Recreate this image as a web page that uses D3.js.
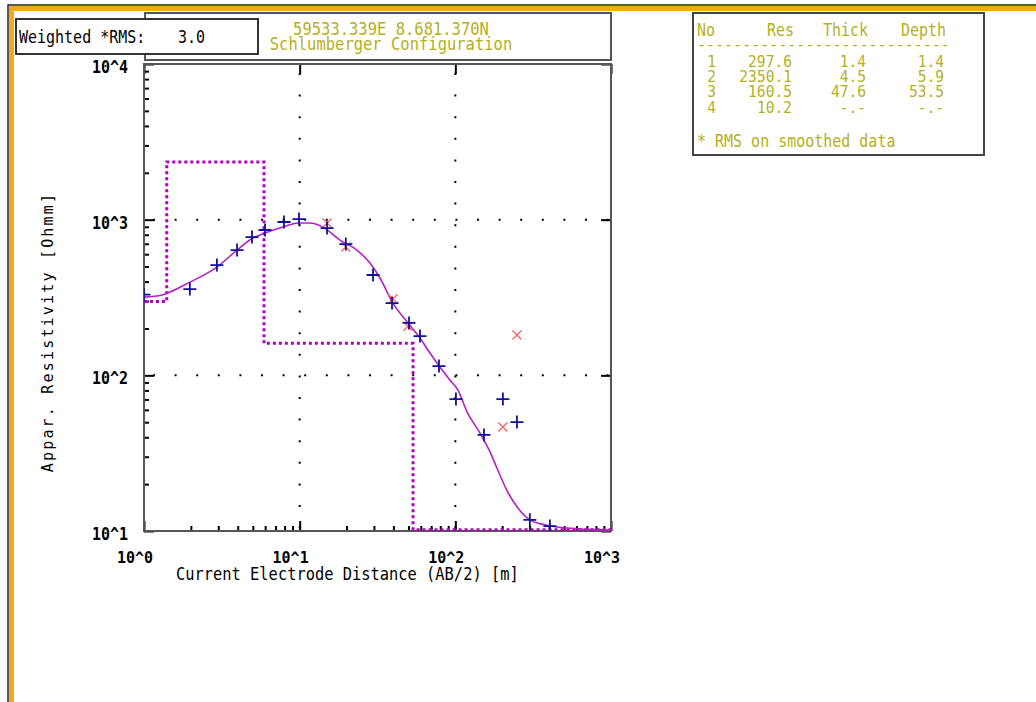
<!DOCTYPE html>
<html>
<head>
<meta charset="utf-8">
<script src="https://cdn.jsdelivr.net/npm/d3@7"></script>
<style>
  body { margin: 0; background: #fff; }
  svg { display: block; }
  text { font-family: "DejaVu Sans Mono", "Liberation Mono", monospace; }
</style>
</head>
<body>
<svg id="chart" width="1036" height="702"></svg>
<script>
// layer model (No / Res / Thick / Depth)
const layerNo = ['1', '2', '3', '4'];
const layerRes = [297.6, 2350.1, 160.5, 10.2];
const layerThick = ['1.4', '4.5', '47.6', '-.-'];
const layerDepth = [1.4, 5.9, 53.5, null];
const layerDepthText = ['1.4', '5.9', '53.5', '-.-'];

// field data, AB/2 [m] and apparent resistivity [Ohmm]
const fieldAB = [1.0, 1.97, 2.94, 3.96, 4.94, 5.99, 7.93, 9.9, 15.0, 19.8, 29.6, 39.2, 50.4, 59.3, 78.5, 100.9, 152.7, 202, 248.7, 301, 405];
const fieldRho = [330, 358, 511, 638, 773, 858, 966, 1009, 883, 697, 441, 291, 217, 178.8, 114.7, 70.4, 41.4, 70.4, 50.1, 11.8, 10.76];

// points masked / smoothed (red x)
const maskAB = [15.0, 19.8, 39.7, 49.6, 202, 248.7];
const maskRho = [951, 667, 309, 207, 46.5, 181.5];

// calculated model curve
const curveAB = [1, 1.305, 1.47, 1.974, 2.94, 3.96, 5.01, 5.99, 7.81, 9.75, 11.6, 14.1, 18.15, 23.3, 28.3, 32.8, 39.7, 49.6, 59.3, 68.7, 79.6, 92.3, 104, 119, 144, 167, 185, 214, 249, 301, 387, 521, 984];
const curveRho = [318, 328, 343, 397, 496, 638, 762, 820, 896, 951, 951, 896, 739, 638, 526, 422, 291, 217, 173.6, 139, 113, 93.3, 80.4, 58.1, 42.6, 32.2, 25.4, 18.3, 14.3, 11.8, 10.9, 10.45, 10.15];

const xDecades = [1, 10, 100, 1000];
const xTickLabels = ['10^0', '10^1', '10^2', '10^3'];
const yDecades = [10, 100, 1000, 10000];
const yTickLabels = ['10^1', '10^2', '10^3', '10^4'];

const rmsValue = '3.0';
const coordText = '59533.339E 8.681.370N';
const configText = 'Schlumberger Configuration';

const olive = '#b4b01c';
const magenta = '#b000c4';

const svg = d3.select('#chart');

const xs = d3.scaleLog().domain([1, 1000]).range([144, 611]);
const ys = d3.scaleLog().domain([10, 10000]).range([531, 64]);

// tall narrow pixel-ish text
function txt(g, x, y, s, opt) {
  opt = opt || {};
  return g.append('text')
    .attr('transform', `translate(${x},${y}) scale(1,${opt.sy || 1.2})`)
    .attr('text-anchor', opt.anchor || 'start')
    .attr('font-size', opt.size || 15)
    .attr('font-weight', opt.weight || 'normal')
    .attr('fill', opt.fill || '#000')
    .text(s);
}

//////////////////////////////////////////////////////////////////
// window frame
svg.append('rect').attr('x', 8).attr('y', 5).attr('width', 1040).attr('height', 710)
  .attr('fill', 'none').attr('stroke', '#222').attr('stroke-width', 1.5);
svg.append('rect').attr('x', 9).attr('y', 6).attr('width', 1040).attr('height', 5).attr('fill', '#f6a81c');
svg.append('rect').attr('x', 9).attr('y', 6).attr('width', 5).attr('height', 700).attr('fill', '#f6a81c');

//////////////////////////////////////////////////////////////////
// title box + weighted RMS box
svg.append('rect').attr('x', 145).attr('y', 13).attr('width', 466).attr('height', 47)
  .attr('fill', '#fff').attr('stroke', '#555').attr('stroke-width', 2);
txt(svg, 391, 35, coordText, { anchor: 'middle', fill: olive, size: 15.5, sy: 1.1 });
txt(svg, 391, 50, configText, { anchor: 'middle', fill: olive, size: 15.5, sy: 1.1 });

svg.append('rect').attr('x', 16).attr('y', 19).attr('width', 242).attr('height', 35)
  .attr('fill', '#fff').attr('stroke', '#333').attr('stroke-width', 2);
txt(svg, 19, 43, 'Weighted *RMS:', { size: 15 });
txt(svg, 178, 43, rmsValue, { size: 15 });

//////////////////////////////////////////////////////////////////
// layer table
const tb = svg.append('g');
tb.append('rect').attr('x', 693).attr('y', 13).attr('width', 291).attr('height', 142)
  .attr('fill', '#fff').attr('stroke', '#444').attr('stroke-width', 2);
txt(tb, 697, 36, 'No', { fill: olive });
txt(tb, 794, 36, 'Res', { fill: olive, anchor: 'end' });
txt(tb, 868, 36, 'Thick', { fill: olive, anchor: 'end' });
txt(tb, 946, 36, 'Depth', { fill: olive, anchor: 'end' });
txt(tb, 697, 50, '----------------------------', { fill: olive, sy: 1 });
layerNo.forEach((n, i) => {
  const y = 67 + i * 15.2;
  const o = { fill: olive, anchor: 'end', size: 14.6, sy: 1.1 };
  txt(tb, 716, y, n, o);
  txt(tb, 792, y, layerRes[i].toFixed(1), o);
  txt(tb, 866, y, layerThick[i], o);
  txt(tb, 944, y, layerDepthText[i], o);
});
txt(tb, 697, 147, '* RMS on smoothed data', { fill: olive });

//////////////////////////////////////////////////////////////////
// plot area
const plot = svg.append('g');
plot.append('defs').append('clipPath').attr('id', 'clip')
  .append('rect').attr('x', 144).attr('y', 64).attr('width', 467).attr('height', 467);

// dotted grid at decades
const gridDots = '2 19.6';
plot.append('g').selectAll('line').data([10, 100]).join('line')
  .attr('x1', d => xs(d)).attr('x2', d => xs(d)).attr('y1', 64).attr('y2', 531)
  .attr('stroke', '#000').attr('stroke-width', 2).attr('stroke-dasharray', gridDots).attr('stroke-dashoffset', -9);
plot.append('g').selectAll('line').data([100, 1000]).join('line')
  .attr('x1', 144).attr('x2', 611).attr('y1', d => ys(d)).attr('y2', d => ys(d))
  .attr('stroke', '#000').attr('stroke-width', 2).attr('stroke-dasharray', gridDots).attr('stroke-dashoffset', -9);

// axes
const minorX = [], minorY = [];
[1, 10, 100].forEach(d => { for (let k = 2; k <= 9; k++) minorX.push(d * k); });
[10, 100, 1000].forEach(d => { for (let k = 2; k <= 9; k++) minorY.push(d * k); });

const styleAxis = g => {
  g.select('.domain').remove();
  g.selectAll('.tick line').attr('stroke', '#000').attr('stroke-width', 2);
  g.selectAll('.tick text').remove();
};

plot.append('g').attr('transform', 'translate(144,0)')
  .call(d3.axisRight(ys).tickValues(minorY).tickSize(5).tickFormat('')).call(styleAxis);
plot.append('g').attr('transform', 'translate(144,0)')
  .call(d3.axisRight(ys).tickValues(yDecades).tickSize(10).tickFormat('')).call(styleAxis);
plot.append('g').attr('transform', 'translate(611,0)')
  .call(d3.axisLeft(ys).tickValues(yDecades).tickSize(10).tickFormat('')).call(styleAxis);
plot.append('g').attr('transform', 'translate(0,531)')
  .call(d3.axisTop(xs).tickValues(minorX).tickSize(5).tickFormat('')).call(styleAxis);
plot.append('g').attr('transform', 'translate(0,531)')
  .call(d3.axisTop(xs).tickValues(xDecades).tickSize(10).tickFormat('')).call(styleAxis);
plot.append('g').attr('transform', 'translate(0,64)')
  .call(d3.axisBottom(xs).tickValues(xDecades).tickSize(10).tickFormat('')).call(styleAxis);

// frame
plot.append('rect').attr('x', 144).attr('y', 64).attr('width', 467).attr('height', 467)
  .attr('fill', 'none').attr('stroke', '#555').attr('stroke-width', 2);

// tick labels
yDecades.forEach((d, i) => txt(plot, 128, ys(d) + 9, yTickLabels[i], { anchor: 'end', weight: 'bold', size: 15 }));
xDecades.forEach((d, i) => txt(plot, xs(d) + 9, 563, xTickLabels[i], { anchor: 'end', weight: 'bold', size: 15, sy: 1.1 }));

txt(plot, 176, 580, 'Current Electrode Distance (AB/2) [m]', { size: 15.4, sy: 1.1 });
plot.append('text')
  .attr('transform', 'translate(53,332) rotate(-90) scale(1,1.1)')
  .attr('text-anchor', 'middle').attr('font-size', 15).attr('letter-spacing', 2.2)
  .text('Appar. Resistivity [Ohmm]');

// model layers as steps
const stepX = [1].concat(layerDepth.filter(d => d !== null), [1000]);
const stepY = layerRes.concat([layerRes[layerRes.length - 1]]);
const stepLine = d3.line().x((d, i) => xs(stepX[i])).y(d => ys(d)).curve(d3.curveStepAfter);
plot.append('path')
  .attr('clip-path', 'url(#clip)')
  .attr('d', stepLine(stepY))
  .attr('fill', 'none').attr('stroke', magenta).attr('stroke-width', 3)
  .attr('stroke-dasharray', '3 3');

// model curve
const curveLine = d3.line().x((d, i) => xs(curveAB[i])).y(d => ys(d)).curve(d3.curveMonotoneX);
plot.append('path')
  .attr('clip-path', 'url(#clip)')
  .attr('d', curveLine(curveRho))
  .attr('fill', 'none').attr('stroke', '#b420c4').attr('stroke-width', 1.6);

// masked points
plot.append('g').attr('clip-path', 'url(#clip)').selectAll('path').data(maskRho).join('path')
  .attr('transform', (d, i) => `translate(${xs(maskAB[i])},${ys(d)})`)
  .attr('d', 'M-4.5,-4.5L4.5,4.5M-4.5,4.5L4.5,-4.5')
  .attr('stroke', '#ff6666').attr('stroke-width', 1.4).attr('fill', 'none');

// field data
plot.append('g').attr('clip-path', 'url(#clip)').selectAll('path').data(fieldRho).join('path')
  .attr('transform', (d, i) => `translate(${xs(fieldAB[i])},${ys(d)})`)
  .attr('d', 'M-6.5,0H6.5M0,-6.5V6.5')
  .attr('stroke', '#10109c').attr('stroke-width', 1.8).attr('fill', 'none');
</script>
</body>
</html>
